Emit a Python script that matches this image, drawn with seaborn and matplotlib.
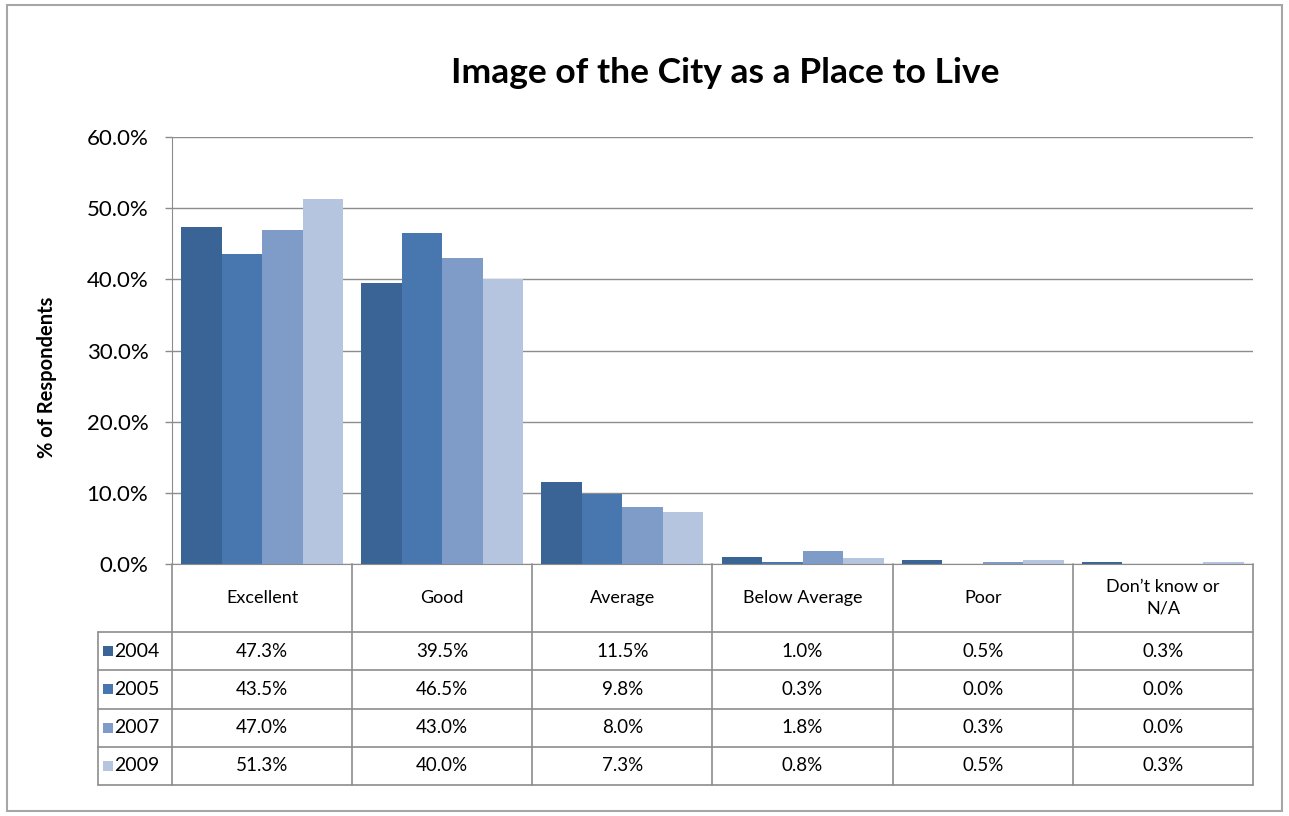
import matplotlib
matplotlib.use("Agg")
import matplotlib.pyplot as plt
import seaborn as sns
import pandas as pd
from matplotlib.transforms import blended_transform_factory
from matplotlib.patches import Rectangle
from matplotlib.lines import Line2D

categories = ["Excellent", "Good", "Average", "Below Average", "Poor", "Don\u2019t know or\nN/A"]
years = ["2004", "2005", "2007", "2009"]
v2004 = [47.3, 39.5, 11.5, 1.0, 0.5, 0.3]
v2005 = [43.5, 46.5, 9.8, 0.3, 0.0, 0.0]
v2007 = [47.0, 43.0, 8.0, 1.8, 0.3, 0.0]
v2009 = [51.3, 40.0, 7.3, 0.8, 0.5, 0.3]
colors = ["#3B6496", "#4877B0", "#7F9BC7", "#B5C4DF"]
yticks = [0, 10, 20, 30, 40, 50, 60]

series = [v2004, v2005, v2007, v2009]
rows = []
for y, vals in zip(years, series):
    for c, v in zip(categories, vals):
        rows.append({"category": c, "year": y, "value": v})
df = pd.DataFrame(rows)

sns.set_style("white")
plt.rcParams["font.family"] = ["Lato", "DejaVu Sans"]
plt.rcParams["text.color"] = "#000000"

fig = plt.figure(figsize=(12.89, 8.16), dpi=100)
ax = fig.add_axes([0.1334, 0.3088, 0.8387, 0.5233])

sns.barplot(data=df, x="category", y="value", hue="year", order=categories,
            hue_order=years, palette=colors, width=0.9, ax=ax, legend=False,
            linewidth=0, saturation=1)

grid_c = "#8C8C8C"
ax.set_xlim(-0.5, len(categories) - 0.5)
ax.set_ylim(0, 60)
ax.set_yticks(yticks)
ax.set_yticklabels([f"{t:.1f}%" for t in yticks], fontsize=16)
ax.set_xticks([])
ax.set_xlabel("")
ax.set_ylabel("")
ax.yaxis.grid(True, color=grid_c, linewidth=1)
ax.set_axisbelow(True)
for s in ["top", "right"]:
    ax.spines[s].set_visible(False)
ax.spines["left"].set_color(grid_c)
ax.spines["bottom"].set_color(grid_c)
ax.tick_params(axis="y", left=True, length=5, width=1, color=grid_c, pad=12, labelcolor="#000000")

fig.text(0.5625, 0.910, "Image of the City as a Place to Live", ha="center", va="center",
         fontsize=25.5, fontweight="bold")
fig.text(0.0365, 0.537, "% of Respondents", rotation=90, ha="center", va="center",
         fontsize=14.5, fontweight="bold")

# data table below the axes
tr = blended_transform_factory(ax.transData, ax.transAxes)
ppu = ax.bbox.width / len(categories)
px_h = ax.bbox.height
header_h = 68 / px_h
row_h = 38.25 / px_h
legend_left = -0.5 - 74 / ppu
n = len(categories)
y_header = -header_h
y_bottom = y_header - row_h * len(years)

def line(xs, ys):
    ax.add_line(Line2D(xs, ys, transform=tr, color=grid_c, linewidth=1.2, clip_on=False))

for i in range(n + 1):
    line([i - 0.5, i - 0.5], [0, y_bottom])
line([legend_left, legend_left], [y_header, y_bottom])
for r in range(len(years) + 1):
    yy = y_header - r * row_h
    line([legend_left, n - 0.5], [yy, yy])

for i, c in enumerate(categories):
    ax.text(i, -header_h / 2, c, transform=tr, ha="center", va="center", fontsize=13,
            linespacing=1.4)

for r, (yr, vals, col) in enumerate(zip(years, series, colors)):
    yc = y_header - (r + 0.5) * row_h
    for i, v in enumerate(vals):
        ax.text(i, yc, f"{v:.1f}%", transform=tr, ha="center", va="center", fontsize=13.5)
    sq_x = legend_left + 5 / ppu
    ax.add_patch(Rectangle((sq_x, yc - 5 / px_h), 10 / ppu, 10 / px_h, transform=tr,
                           facecolor=col, edgecolor="none", clip_on=False))
    ax.text(legend_left + 16 / ppu, yc, yr, transform=tr, ha="left", va="center", fontsize=14)

# outer chart border
fig.patches.append(Rectangle((7 / 1289, 5 / 816), 1 - 14 / 1289, 1 - 10 / 816,
                             transform=fig.transFigure, fill=False, edgecolor="#A6A6A6",
                             linewidth=1.5))

fig.savefig("out.png", dpi=100)
